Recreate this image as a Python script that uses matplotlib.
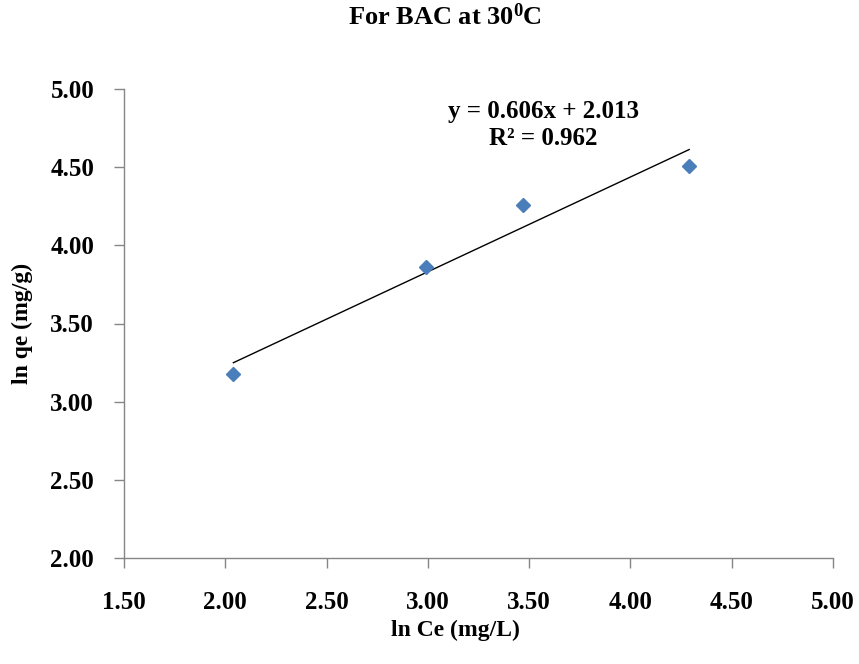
import numpy as np
import matplotlib
matplotlib.use("Agg")
import matplotlib.pyplot as plt

# Data
ln_ce = [2.04, 2.99, 3.47, 4.29]
ln_qe = [3.18, 3.86, 4.26, 4.51]
slope = 0.606
intercept = 2.013
r2 = 0.962
x_ticks = [1.5, 2.0, 2.5, 3.0, 3.5, 4.0, 4.5, 5.0]
y_ticks = [2.0, 2.5, 3.0, 3.5, 4.0, 4.5, 5.0]

plt.rcParams['font.family'] = ['Liberation Serif', 'DejaVu Serif']
plt.rcParams['font.weight'] = 'bold'
plt.rcParams['mathtext.fontset'] = 'custom'
plt.rcParams['mathtext.rm'] = 'Liberation Serif:bold'
plt.rcParams['mathtext.it'] = 'Liberation Serif:bold'
plt.rcParams['mathtext.bf'] = 'Liberation Serif:bold'

W, H = 859, 664
fig = plt.figure(figsize=(W / 100, H / 100), dpi=100)
L, R, T, B = 124, 833, 89, 558
ax = fig.add_axes([L / W, 1 - B / H, (R - L) / W, (B - T) / H])

ax.plot(ln_ce, ln_qe, linestyle='none', marker='D', markersize=7.5,
        color='#4A7EBB', markeredgecolor='#4A7EBB', zorder=3)
xf = np.array([min(ln_ce), max(ln_ce)])
ax.plot(xf, slope * xf + intercept, color='black', linewidth=1.0, zorder=2)

ax.set_xlim(1.5, 5.0)
ax.set_ylim(2.0, 5.0)
ax.set_xticks(x_ticks)
ax.set_yticks(y_ticks)
ax.set_xticklabels([f"{v:.2f}" for v in x_ticks])
ax.set_yticklabels([f"{v:.2f}" for v in y_ticks])

for s in ['top', 'right']:
    ax.spines[s].set_visible(False)
for s in ['left', 'bottom']:
    ax.spines[s].set_color('#868686')
    ax.spines[s].set_linewidth(1.0)

ax.tick_params(axis='x', direction='out', length=7.5, width=1.0, color='#868686',
               labelsize=18, pad=16)
ax.tick_params(axis='y', direction='out', length=7.5, width=1.0, color='#868686',
               labelsize=18, pad=14)
for lab in ax.get_xticklabels() + ax.get_yticklabels():
    lab.set_fontweight('bold')

ax.set_xlabel('ln Ce (mg/L)', fontsize=17, fontweight='bold')
ax.set_ylabel('ln qe (mg/g)', fontsize=17, fontweight='bold')
ax.xaxis.set_label_coords((455 - L) / (R - L), (B - 620) / (B - T))
ax.yaxis.set_label_coords((33 - L) / (R - L), 0.5)

ax.text(3.57, 4.77, f"y = {slope:.3f}x + {intercept:.3f}\nR² = {r2:.3f}",
        ha='center', va='center', fontsize=18, fontweight='bold',
        linespacing=1.2)

fig.text(445 / W, 1 - 17 / H, r"For BAC at 30$^{0}$C", ha='center', va='center',
         fontsize=19, fontweight='bold')

fig.savefig('out.png', dpi=100)
